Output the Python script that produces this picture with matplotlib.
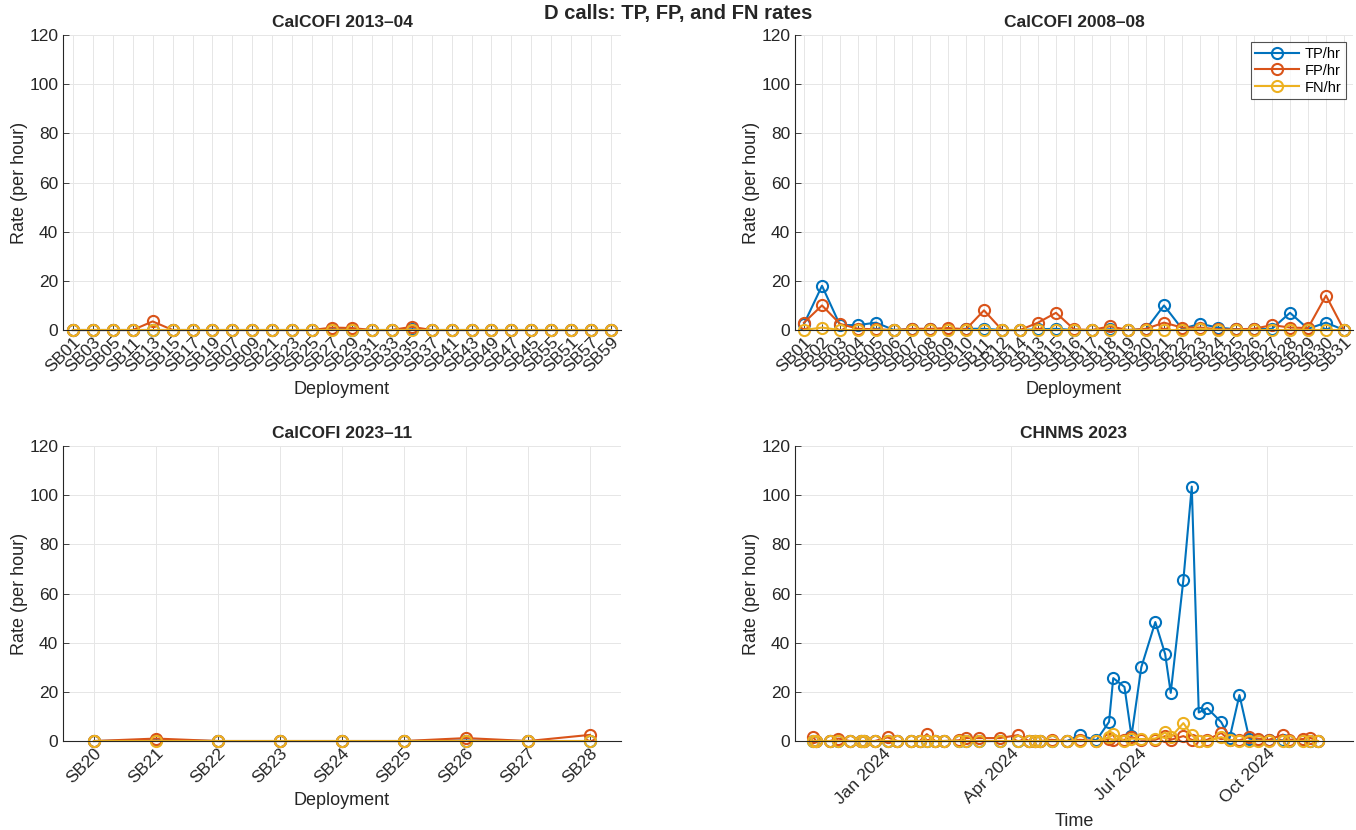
import matplotlib
matplotlib.use("Agg")
import matplotlib.pyplot as plt
import matplotlib.dates as mdates
import numpy as np
from datetime import datetime

plt.rcParams['font.family'] = ['Liberation Sans', 'DejaVu Sans']

# colours (MATLAB default order)
c_tp = '#0072BD'
c_fp = '#D95319'
c_fn = '#EDB120'
axcol = '#262626'

# CalCOFI 2013-04
dep_1304 = ['SB01', 'SB03', 'SB05', 'SB11', 'SB13', 'SB15', 'SB17', 'SB19', 'SB07', 'SB09',
            'SB21', 'SB23', 'SB25', 'SB27', 'SB29', 'SB31', 'SB33', 'SB35', 'SB37', 'SB41',
            'SB43', 'SB49', 'SB47', 'SB45', 'SB55', 'SB51', 'SB57', 'SB59']
tp_1304 = [0, 0, 0, 0, 0, 0, 0, 0, 0, 0, 0, 0, 0, 0.3, 0.2, 0, 0, 0.3, 0, 0,
           0, 0, 0, 0, 0, 0, 0, 0]
fp_1304 = [0, 0, 0, 0, 3.5, 0, 0, 0, 0, 0, 0, 0, 0, 1.0, 0.8, 0, 0, 1.3, 0, 0,
           0, 0, 0, 0, 0, 0, 0, 0]
fn_1304 = [0] * 28

# CalCOFI 2008-08
dep_0808 = ['SB01', 'SB02', 'SB03', 'SB04', 'SB05', 'SB06', 'SB07', 'SB08', 'SB09', 'SB10',
            'SB11', 'SB12', 'SB14', 'SB13', 'SB15', 'SB16', 'SB17', 'SB18', 'SB19', 'SB20',
            'SB21', 'SB22', 'SB23', 'SB24', 'SB25', 'SB26', 'SB27', 'SB28', 'SB29', 'SB30', 'SB31']
tp_0808 = [2.5, 18, 2, 2, 3, 0, 0.3, 0.3, 0.3, 0.5, 0.5, 0, 0, 0.3, 0.5, 0, 0, 0.3, 0, 0.3,
           10, 0.5, 2.5, 1, 0.3, 0.3, 0.5, 7, 0.5, 3, 0]
fp_0808 = [3, 10, 2.5, 0.5, 0.3, 0, 0.5, 0.5, 0.8, 0.3, 8, 0, 0, 3, 7, 0.3, 0, 1.5, 0, 0.5,
           3, 1, 1, 0.3, 0.3, 0.5, 2, 1, 0.8, 14, 0]
fn_0808 = [0, 1, 0, 0, 0, 0, 0, 0, 0, 0, 0, 0, 0, 0, 0, 0, 0, 0, 0, 0,
           0, 0, 0.5, 0, 0, 0, 0, 0, 0, 0, 0]

# CalCOFI 2023-11
dep_2311 = ['SB20', 'SB21', 'SB22', 'SB23', 'SB24', 'SB25', 'SB26', 'SB27', 'SB28']
tp_2311 = [0, 0.3, 0, 0, 0, 0, 0.2, 0, 0]
fp_2311 = [0, 1.0, 0, 0, 0, 0, 1.2, 0, 2.5]
fn_2311 = [0, 0, 0, 0, 0, 0, 0, 0, 0]

# CHNMS 2023
chnms_dates = ['2023-11-12', '2023-11-14', '2023-11-24', '2023-11-30', '2023-12-08',
               '2023-12-16', '2023-12-18', '2023-12-26', '2024-01-04', '2024-01-11',
               '2024-01-21', '2024-01-27', '2024-02-01', '2024-02-07', '2024-02-13',
               '2024-02-24', '2024-02-29', '2024-03-09', '2024-03-24', '2024-04-06',
               '2024-04-14', '2024-04-18', '2024-04-22', '2024-04-30', '2024-05-11',
               '2024-05-20', '2024-06-01', '2024-06-10', '2024-06-13', '2024-06-21',
               '2024-06-26', '2024-07-03', '2024-07-13', '2024-07-20', '2024-07-24',
               '2024-08-02', '2024-08-08', '2024-08-13', '2024-08-19', '2024-08-29',
               '2024-09-04', '2024-09-11', '2024-09-18', '2024-09-24', '2024-10-02',
               '2024-10-12', '2024-10-16', '2024-10-26', '2024-10-31', '2024-11-06']
tp_chnms = [0, 0, 0, 0, 0, 0, 0, 0, 0, 0,
            0, 0, 0, 0, 0, 0, 0, 0, 0, 0,
            0, 0, 0, 0, 0, 2.4, 0.3, 7.8, 25.6, 22,
            2, 30, 48.4, 35.4, 19.6, 65.5, 103.5, 11.6, 13.4, 7.7,
            1.2, 18.7, 1, 0.3, 0.3, 0.3, 0, 0.3, 0, 0]
fp_chnms = [1.6, 0, 0, 1, 0, 0, 0, 0, 1.5, 0,
            0, 0, 2.8, 0, 0, 0.3, 1.2, 1.2, 1.2, 2.4,
            0, 0, 0, 0.5, 0, 0.5, 0, 0.8, 0.5, 0.5,
            1.6, 0.5, 0.5, 2, 0.5, 2, 0.5, 0, 0.5, 3.3,
            0.3, 0.3, 1.6, 1, 0.5, 2.6, 0.5, 0.8, 1.4, 0]
fn_chnms = [0, 0, 0, 0, 0, 0, 0, 0, 0, 0,
            0, 0, 0, 0, 0, 0, 0, 0, 0, 0,
            0, 0, 0, 0, 0, 0, 0, 1.5, 3, 0,
            1, 0.8, 1, 3.5, 1.5, 7.3, 2.4, 0, 0, 1.6,
            0.3, 0, 0, 0, 0, 0, 0, 0, 0, 0]


def style_ax(ax):
    ax.set_ylim(0, 120)
    ax.set_yticks(np.arange(0, 121, 20))
    ax.spines['top'].set_visible(False)
    ax.spines['right'].set_visible(False)
    for s in ['left', 'bottom']:
        ax.spines[s].set_color(axcol)
        ax.spines[s].set_linewidth(0.8)
    ax.tick_params(direction='in', length=4, width=0.6, colors=axcol, labelsize=12.5)
    ax.grid(True, color='#e6e6e6', linewidth=0.7)
    ax.set_axisbelow(True)
    ax.set_ylabel('Rate (per hour)', fontsize=13, color=axcol, labelpad=1)


def draw_series(ax, x, tp, fp, fn):
    kw = dict(marker='o', mfc='none', ms=8, mew=1.5, lw=1.5, clip_on=False)
    ax.plot(x, tp, color=c_tp, label='TP/hr', **kw)
    ax.plot(x, fp, color=c_fp, label='FP/hr', **kw)
    ax.plot(x, fn, color=c_fn, label='FN/hr', **kw)


def category_panel(ax, deps, tp, fp, fn, title):
    x = np.arange(1, len(deps) + 1)
    draw_series(ax, x, tp, fp, fn)
    ax.set_xlim(0.5, len(deps) + 0.5)
    ax.set_xticks(x)
    ax.set_xticklabels(deps, rotation=45, ha='right', rotation_mode='anchor')
    style_ax(ax)
    ax.set_xlabel('Deployment', fontsize=13, color=axcol, labelpad=4)
    ax.set_title(title, fontsize=12.5, weight='bold', color=axcol, pad=6)


fig = plt.figure(figsize=(13.56, 8.30), dpi=100)
w, h = 558 / 1356, 295 / 830
ax1 = fig.add_axes([63 / 1356, 0.6024, w, h])
ax2 = fig.add_axes([795 / 1356, 0.6024, w, h])
ax3 = fig.add_axes([63 / 1356, 0.1072, w, h])
ax4 = fig.add_axes([795 / 1356, 0.1072, w, h])

category_panel(ax1, dep_1304, tp_1304, fp_1304, fn_1304, 'CalCOFI 2013\u201304')
category_panel(ax2, dep_0808, tp_0808, fp_0808, fn_0808, 'CalCOFI 2008\u201308')
category_panel(ax3, dep_2311, tp_2311, fp_2311, fn_2311, 'CalCOFI 2023\u201311')

leg = ax2.legend(loc='upper right', fontsize=10.5, frameon=True, fancybox=False,
                 edgecolor=axcol, borderaxespad=0.5, handlelength=3.0, borderpad=0.3,
                 labelspacing=0.2, handletextpad=0.4)
leg.get_frame().set_linewidth(0.8)

# time panel
dts = [datetime.strptime(d, '%Y-%m-%d') for d in chnms_dates]
draw_series(ax4, dts, tp_chnms, fp_chnms, fn_chnms)
ax4.set_xlim(datetime(2023, 10, 30), datetime(2024, 12, 1))
ax4.xaxis.set_major_locator(mdates.MonthLocator(bymonth=[1, 4, 7, 10]))
ax4.xaxis.set_major_formatter(mdates.DateFormatter('%b %Y'))
style_ax(ax4)
for lab in ax4.get_xticklabels():
    lab.set_rotation(45)
    lab.set_ha('right')
    lab.set_rotation_mode('anchor')
ax4.set_xlabel('Time', fontsize=13, color=axcol, labelpad=4)
ax4.set_title('CHNMS 2023', fontsize=12.5, weight='bold', color=axcol, pad=6)

fig.suptitle('D calls: TP, FP, and FN rates', fontsize=14.5, weight='bold',
             color=axcol, y=0.995)

plt.savefig('out.png', dpi=100)
